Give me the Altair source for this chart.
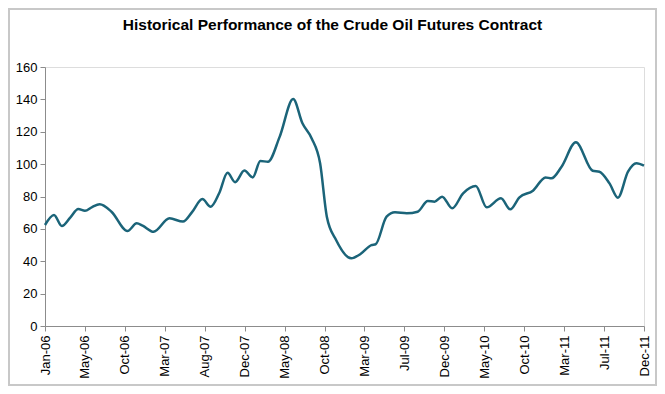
import altair as alt
import pandas as pd

# Months since Jan-06 (position along the time axis) and contract price (USD/bbl)
month_pos = [0, 1.07, 2.0, 3.0, 3.96, 4.75, 5.6, 6.5, 7.9, 9.8, 10.9, 11.6, 12.9,
             14.8, 16.4, 17.5, 18.7, 19.7, 20.7, 21.7, 22.6, 23.7, 24.7, 25.6,
             26.5, 27.9, 29.5, 30.6, 31.7, 32.7, 33.5, 34.6, 36.4, 37.5, 38.8,
             39.3, 40.6, 41.6, 43.0, 44.3, 45.5, 46.3, 47.2, 48.4, 49.7, 51.2,
             52.5, 54.2, 55.3, 56.4, 58.0, 59.5, 60.2, 61.4, 63.1, 65.1, 65.9,
             67.1, 68.1, 69.3, 70.3, 71.2]
price = [62.4, 68.6, 61.8, 67.0, 72.3, 71.2, 73.5, 75.2, 70.6, 58.7, 63.4, 62.0, 58.2,
         66.5, 64.5, 70.5, 78.4, 73.7, 82.0, 94.7, 88.8, 96.0, 91.8, 101.9,
         101.5, 117.0, 140.2, 125.2, 115.9, 100.5, 67.5, 53.1, 41.8, 44.5, 50.0,
         50.5, 67.5, 70.2, 69.6, 70.6, 77.2, 76.8, 79.9, 72.7, 82.0, 86.5,
         73.3, 78.9, 72.1, 79.5, 83.6, 91.8, 91.2, 98.4, 113.5, 95.9, 95.3,
         88.1, 79.3, 95.3, 100.5, 99.0]
tick_labels = ["Jan-06", "May-06", "Oct-06", "Mar-07", "Aug-07", "Dec-07", "May-08",
               "Oct-08", "Mar-09", "Jul-09", "Dec-09", "May-10", "Oct-10", "Mar-11",
               "Jul-11", "Dec-11"]
y_ticks = [0, 20, 40, 60, 80, 100, 120, 140, 160]

span = month_pos[-1]
n = len(tick_labels) - 1
tick_vals = [k * span / n for k in range(n + 1)]
label_expr = "[" + ",".join("'%s'" % t for t in tick_labels) + "][round(datum.value*%d/%s)]" % (n, span)

df = pd.DataFrame({"m": month_pos, "p": price})

W, H = 599, 259
FONT = "Liberation Sans"

line = alt.Chart(df).mark_line(
    color="#1b6479", strokeWidth=2.5, interpolate="monotone"
).encode(
    x=alt.X("m:Q", title=None,
            scale=alt.Scale(domain=[0, span], nice=False, zero=False),
            axis=alt.Axis(values=tick_vals, labelExpr=label_expr, labelAngle=-90,
                          labelFont=FONT, labelFontSize=13, labelColor="#000000",
                          domainColor="#8c8c8c", tickColor="#8c8c8c", tickSize=5,
                          labelPadding=4, grid=False)),
    y=alt.Y("p:Q", title=None,
            scale=alt.Scale(domain=[0, 160], nice=False),
            axis=alt.Axis(values=y_ticks, labelFont=FONT, labelFontSize=13,
                          labelColor="#000000", domainColor="#8c8c8c",
                          tickColor="#8c8c8c", tickSize=5, labelPadding=3,
                          grid=False)),
)

frame = alt.Chart(pd.DataFrame({"a": [0]})).mark_rect(
    fill=None, stroke="#c8c8c8", strokeWidth=2
).encode(
    x=alt.value(-36), x2=alt.value(W + 12),
    y=alt.value(-58), y2=alt.value(H + 59),
)

chart = alt.layer(frame, line).properties(
    width=W, height=H,
    autosize="none",
    padding={"left": 37, "top": 59, "right": 13, "bottom": 60},
    title=alt.Title("Historical Performance of the Crude Oil Futures Contract",
                    font=FONT, fontSize=15.5, fontWeight="bold", color="#000000",
                    anchor="middle", dx=-12, offset=-25),
).configure_view(stroke="#a0a0a0", strokeWidth=1).configure(background="white")

chart.save("out.html", embed_options={"renderer": "svg", "actions": False})
